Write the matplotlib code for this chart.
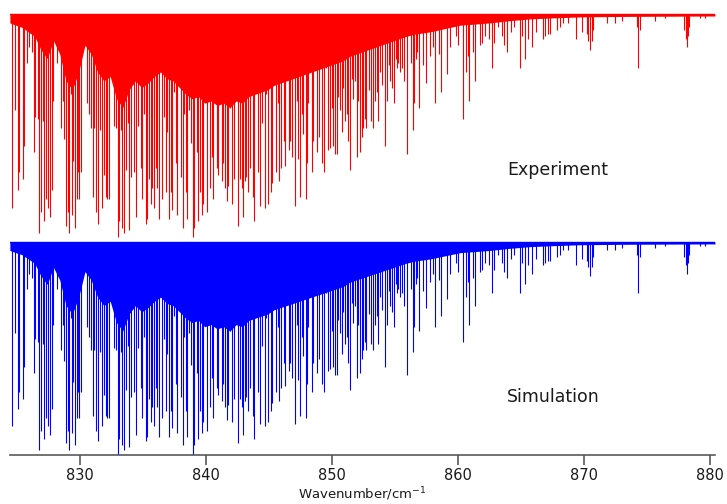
import matplotlib
matplotlib.use("Agg")
import matplotlib.pyplot as plt
import numpy as np

# ---- data: absorption line positions (cm-1) and relative depths ----
line_wn = [
    824.63, 824.82, 825.06, 825.18, 825.50, 825.58, 825.77, 825.98, 826.17, 826.37,
    826.45, 826.64, 826.77, 826.88, 827.04, 827.17, 827.30, 827.44, 827.62, 827.75,
    827.88, 828.20, 828.47, 828.63, 828.73, 828.87, 829.02, 829.15, 829.26, 829.34,
    829.44, 829.60, 829.74, 829.87, 829.94, 830.06, 830.21, 830.58, 830.74, 830.87,
    831.01, 831.13, 831.27, 831.40, 831.59, 831.72, 831.90, 832.06, 832.17, 832.33,
    832.46, 832.70, 832.86, 832.99, 833.12, 833.25, 833.36, 833.52, 833.65, 833.79,
    833.89, 834.05, 834.15, 834.29, 834.44, 834.63, 834.82, 834.94, 835.08, 835.21,
    835.34, 835.48, 835.61, 835.74, 835.87, 836.01, 836.14, 836.27, 836.53, 836.67,
    836.80, 836.93, 837.06, 837.20, 837.33, 837.46, 837.60, 837.72, 837.99, 838.14,
    838.28, 838.41, 838.52, 838.68, 838.79, 838.94, 839.07, 839.26, 839.39, 839.52,
    839.66, 839.79, 839.92, 840.06, 840.18, 840.32, 840.45, 840.58, 840.71, 840.85,
    840.98, 841.11, 841.25, 841.37, 841.51, 841.64, 841.77, 841.90, 842.08, 842.25,
    842.43, 842.56, 842.70, 842.88, 842.96, 843.10, 843.18, 843.36, 843.49, 843.75,
    843.83, 843.97, 844.15, 844.29, 844.42, 844.68, 844.76, 844.90, 845.00, 845.14,
    845.26, 845.42, 845.56, 845.69, 845.82, 845.95, 846.09, 846.19, 846.29, 846.56,
    846.67, 846.80, 846.93, 847.06, 847.20, 847.33, 847.46, 847.60, 847.72, 847.91,
    847.99, 848.12, 848.39, 848.52, 848.67, 848.83, 848.97, 849.23, 849.39, 849.52,
    849.71, 849.84, 849.98, 850.10, 850.24, 850.37, 850.50, 850.64, 850.77, 850.90,
    851.03, 851.17, 851.29, 851.43, 851.56, 851.69, 851.80, 851.95, 852.09, 852.22,
    852.36, 852.49, 852.62, 852.70, 852.96, 853.10, 853.28, 853.41, 853.55, 853.68,
    853.81, 853.95, 854.21, 854.34, 854.52, 854.60, 854.74, 854.92, 855.06, 855.13,
    855.26, 855.40, 855.58, 855.71, 855.98, 856.24, 856.40, 856.51, 856.64, 856.77,
    856.91, 857.25, 857.46, 857.78, 857.99, 858.18, 858.49, 858.65, 859.10, 859.37,
    859.84, 860.02, 860.42, 860.61, 860.77, 860.90, 861.17, 861.35, 861.75, 861.91,
    862.15, 862.46, 862.68, 862.86, 863.15, 863.47, 863.65, 863.87, 864.21, 864.45,
    864.92, 865.11, 865.32, 865.58, 865.85, 866.17, 866.77, 866.91, 867.12, 867.30,
    867.83, 868.10, 868.36, 868.76, 869.34, 869.82, 870.24, 870.36, 870.48, 870.60,
    870.71, 871.80, 872.46, 872.99, 874.21, 874.31, 874.41, 875.63, 876.43, 877.97,
    878.07, 878.15, 878.25, 878.37, 879.21, 879.60,
]

exp_depth = [
    0.87, 0.43, 0.79, 0.71, 0.74, 0.59, 0.22, 0.15, 0.17, 0.62,
    0.46, 0.47, 0.98, 0.89, 0.48, 0.93, 0.83, 0.87, 0.91, 0.79,
    0.39, 0.22, 0.51, 0.39, 0.56, 0.95, 0.89, 0.98, 0.36, 0.90,
    0.66, 0.96, 0.83, 0.71, 0.83, 0.71, 0.15, 0.40, 0.45, 0.51,
    0.82, 0.51, 0.89, 0.94, 0.52, 0.87, 0.72, 0.82, 0.83, 0.83,
    0.24, 0.50, 0.51, 1.00, 0.93, 0.52, 0.96, 0.98, 0.70, 0.49,
    0.97, 0.73, 0.20, 0.71, 0.91, 0.50, 0.69, 0.83, 0.45, 0.94,
    0.92, 0.74, 0.85, 0.78, 0.87, 0.69, 0.78, 0.92, 0.83, 0.46,
    0.80, 0.53, 0.92, 0.80, 0.88, 0.35, 0.67, 0.90, 0.73, 0.96,
    0.45, 0.80, 0.92, 0.43, 0.58, 1.00, 0.96, 0.62, 0.93, 0.80,
    0.90, 0.85, 0.37, 0.89, 0.15, 0.78, 0.64, 0.83, 0.33, 0.69,
    0.72, 0.39, 0.75, 0.67, 0.78, 0.84, 0.77, 0.42, 0.85, 0.74,
    0.19, 0.95, 0.74, 0.78, 0.91, 0.75, 0.73, 0.80, 0.69, 0.82,
    0.93, 0.33, 0.71, 0.86, 0.49, 0.87, 0.36, 0.85, 0.30, 0.80,
    0.76, 0.31, 0.71, 0.40, 0.75, 0.69, 0.28, 0.57, 0.68, 0.61,
    0.57, 0.64, 0.22, 0.86, 0.39, 0.65, 0.82, 0.45, 0.54, 0.83,
    0.67, 0.40, 0.71, 0.57, 0.17, 0.62, 0.55, 0.67, 0.71, 0.24,
    0.61, 0.60, 0.42, 0.59, 0.63, 0.63, 0.37, 0.43, 0.53, 0.33,
    0.48, 0.45, 0.57, 0.70, 0.29, 0.38, 0.30, 0.64, 0.39, 0.62,
    0.55, 0.51, 0.47, 0.51, 0.34, 0.48, 0.51, 0.39, 0.35, 0.48,
    0.26, 0.32, 0.59, 0.39, 0.23, 0.30, 0.33, 0.40, 0.20, 0.24,
    0.22, 0.26, 0.24, 0.30, 0.63, 0.22, 0.52, 0.40, 0.20, 0.17,
    0.42, 0.23, 0.31, 0.19, 0.15, 0.40, 0.18, 0.35, 0.27, 0.15,
    0.10, 0.14, 0.47, 0.26, 0.19, 0.39, 0.17, 0.30, 0.14, 0.13,
    0.10, 0.11, 0.24, 0.13, 0.06, 0.10, 0.14, 0.17, 0.08, 0.06,
    0.24, 0.10, 0.20, 0.11, 0.15, 0.08, 0.11, 0.10, 0.09, 0.09,
    0.07, 0.06, 0.04, 0.04, 0.11, 0.08, 0.09, 0.12, 0.16, 0.12,
    0.07, 0.04, 0.04, 0.03, 0.06, 0.24, 0.07, 0.03, 0.02, 0.07,
    0.11, 0.15, 0.10, 0.06, 0.02, 0.02,
]

sim_depth = list(exp_depth)

# depth of the unresolved (blended) absorption forest
env_wn = [824.44, 824.9, 825.4, 825.9, 826.4, 826.9, 827.4, 827.9, 828.4, 828.9,
          829.4, 829.9, 830.4, 830.9, 831.4, 831.9, 832.4, 832.9, 833.4, 833.9,
          834.4, 834.9, 835.4, 835.9, 836.4, 836.9, 837.4, 837.9, 838.4, 838.9,
          839.4, 839.9, 840.4, 840.9, 841.4, 841.9, 842.4, 842.9, 843.4, 843.9,
          844.4, 844.9, 845.4, 845.9, 846.4, 846.9, 847.4, 847.9, 848.4, 848.9,
          849.4, 849.9, 850.4, 850.9, 851.4, 851.9, 852.4, 852.9, 853.4, 853.9,
          854.4, 854.9, 855.4, 855.9, 856.6, 857.8, 859.0, 860.2, 861.4, 862.5,
          864.1, 865.7, 867.3, 869.7, 872.9, 880.4]
env_depth = [0.04, 0.05, 0.06, 0.08, 0.10, 0.16, 0.20, 0.12, 0.18, 0.30,
             0.34, 0.26, 0.14, 0.18, 0.26, 0.30, 0.28, 0.38, 0.42, 0.34,
             0.30, 0.33, 0.31, 0.28, 0.26, 0.29, 0.30, 0.33, 0.36, 0.38,
             0.37, 0.40, 0.39, 0.41, 0.40, 0.42, 0.39, 0.40, 0.37, 0.36,
             0.35, 0.34, 0.32, 0.31, 0.30, 0.29, 0.28, 0.27, 0.26, 0.25,
             0.24, 0.23, 0.22, 0.21, 0.19, 0.18, 0.17, 0.16, 0.15, 0.14,
             0.13, 0.12, 0.11, 0.10, 0.09, 0.08, 0.065, 0.05, 0.045, 0.04,
             0.03, 0.022, 0.018, 0.013, 0.011, 0.009]

x_ticks = [830, 840, 850, 860, 870, 880]
panel_labels = ["Experiment", "Simulation"]
x_label = "Wavenumber/cm$^{-1}$"

# ---- figure ----
W, H = 727, 504
fig = plt.figure(figsize=(W / 100, H / 100), dpi=100)
ax = fig.add_axes([10 / W, 49 / H, 705 / W, 455 / H])
ax.set_xlim(824.45, 880.4)
ax.set_ylim(0, 455 / 223)

exp_base = (455 - 14) / 223
sim_base = (455 - 242) / 223
sim_scale = 0.95

wn = np.array(line_wn)
ed = np.array(exp_depth)
sd = np.array(sim_depth)
ew = np.array(env_wn)
edp = np.array(env_depth)

for base, depth, scale, col in [(exp_base, ed, 1.0, "#ff0000"),
                                 (sim_base, sd, sim_scale, "#0000ff")]:
    ax.fill_between(ew, base - edp * scale, base, color=col, lw=0, zorder=2)
    ax.axhline(base, color=col, lw=1.0, zorder=3)
    ax.vlines(wn, base - depth * scale, base, colors=col, lw=0.8, zorder=3)

for sp in ["top", "left", "right"]:
    ax.spines[sp].set_visible(False)
ax.spines["bottom"].set_color("#5a5a5a")
ax.spines["bottom"].set_linewidth(1.2)
ax.set_yticks([])
ax.set_xticks(x_ticks)
ax.tick_params(axis="x", direction="out", length=7, width=1.2, color="#5a5a5a",
               labelsize=10.5, pad=2.5, labelcolor="#1a1a1a")

fig.text(362.5 / W, 1.0 / H, x_label, fontsize=9.5, ha="center",
         va="bottom", color="#1a1a1a")

fig.text(507 / W, 1 - 170 / H, panel_labels[0], fontsize=12.5, va="center",
         ha="left", color="#1a1a1a")
fig.text(507 / W, 1 - 397 / H, panel_labels[1], fontsize=12.5, va="center",
         ha="left", color="#1a1a1a")

fig.savefig("out.png", dpi=100)
